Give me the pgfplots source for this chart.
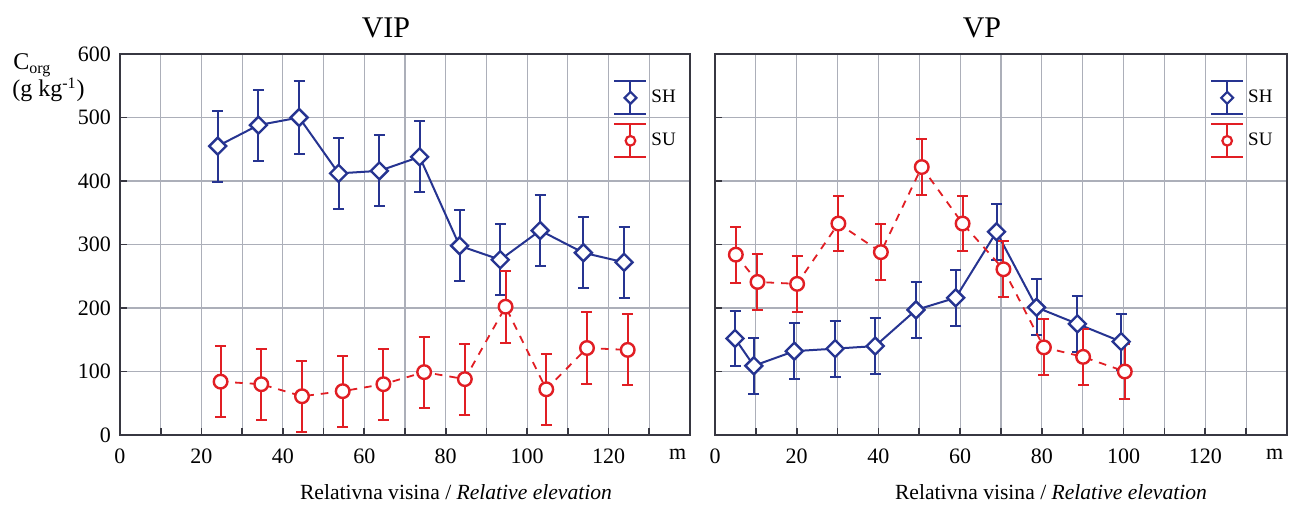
\documentclass[border=0pt]{standalone}
\usepackage{fontspec}
\setmainfont{Liberation Serif}
\usepackage{pgfplots}
\pgfplotsset{compat=1.18}
\definecolor{blueL}{RGB}{38,52,145}
\definecolor{redL}{RGB}{225,30,36}
\definecolor{gridc}{RGB}{172,175,185}
\definecolor{axc}{RGB}{55,55,65}

\pgfplotsset{
  panel/.style={
    scale only axis, width=285pt, height=190.5pt,
    xmin=0, xmax=140, ymin=0, ymax=600,
    xtick={0,20,...,120}, minor xtick={10,30,...,130},
    ytick={0,100,...,600},
    xmajorgrids, xminorgrids, ymajorgrids,
    grid style={gridc, line width=0.6pt},
    minor grid style={gridc, line width=0.6pt},
    axis line style={axc, line width=1pt},
    tick style={axc, line width=0.9pt},
    tick align=inside, major tick length=3.5pt, minor tick length=3.5pt,
    xtick pos=bottom, ytick pos=left,
    /pgf/number format/assume math mode=true,
    ticklabel style={font=\fontsize{11}{13}\selectfont},
    xticklabel style={yshift=-3.5pt},
    yticklabel style={xshift=-1pt},
    extra x ticks={137}, extra x tick labels={m},
    extra x tick style={major tick length=0pt, grid=none},
    legend cell align=left,
    legend style={at={(0.865,0.932)}, anchor=north west, draw=none, fill=none,
      inner sep=0pt, row sep=4pt, font=\fontsize{9.5}{11}\selectfont,
      /tikz/every even column/.append style={column sep=2pt}},
  },
  SH/.style={blueL, line width=1pt, mark=square*, mark size=3pt,
    mark options={rotate=45, fill=white, line width=1.2pt, solid},
    error bars/y dir=both, error bars/y explicit,
    error bars/error bar style={line width=1pt, solid, blueL},
    error bars/error mark options={rotate=90, mark size=2.75pt, line width=1pt, blueL, solid},
  },
  SU/.style={redL, line width=0.9pt, dash pattern=on 3.8pt off 3.5pt, mark=*, mark size=3.4pt,
    mark options={fill=white, line width=1.2pt, solid},
    error bars/y dir=both, error bars/y explicit,
    error bars/error bar style={line width=1pt, solid, redL},
    error bars/error mark options={rotate=90, mark size=2.75pt, line width=1pt, redL, solid},
  },
  SHleg/.style={legend image code/.code={
    \draw[blueL, line width=1pt, solid] (8pt,-8.25pt) -- (8pt,8.25pt)
      (0pt,8.25pt) -- (16pt,8.25pt) (0pt,-8.25pt) -- (16pt,-8.25pt);
    \draw[blueL, line width=1.1pt, fill=white, mark=square*, mark size=2.1pt,
      mark options={rotate=45, fill=white, solid}] plot coordinates {(8pt,0pt)};
  }},
  SUleg/.style={legend image code/.code={
    \draw[redL, line width=1pt, solid] (8pt,-8.25pt) -- (8pt,8.25pt)
      (0pt,8.25pt) -- (16pt,8.25pt) (0pt,-8.25pt) -- (16pt,-8.25pt);
    \draw[redL, line width=1.1pt, fill=white, mark=*, mark size=2.4pt,
      mark options={fill=white, solid}] plot coordinates {(8pt,0pt)};
  }},
}

\begin{document}
\begin{tikzpicture}
\path[use as bounding box] (0,0) rectangle (648.5pt,253.5pt);

% ---------------- VIP ----------------
\begin{axis}[panel, at={(60pt,36pt)}, anchor=south west]
\addplot+[SH, SHleg] coordinates {
  (24,455) +- (0,56)
  (34,488) +- (0,56)
  (44,500) +- (0,57)
  (53.7,412) +- (0,56)
  (63.7,416) +- (0,56)
  (73.6,438) +- (0,56)
  (83.4,298) +- (0,56)
  (93.4,276) +- (0,56)
  (103.2,322) +- (0,56)
  (113.8,287) +- (0,56)
  (123.8,272) +- (0,56)
};
\addlegendentry{SH}
\addplot+[SU, SUleg] coordinates {
  (24.7,84) +- (0,56)
  (34.7,80) +- (0,56)
  (44.7,61) +- (0,56)
  (54.7,69) +- (0,56)
  (64.7,80) +- (0,56)
  (74.7,99) +- (0,56)
  (84.7,88) +- (0,56)
  (94.7,202) +- (0,57)
  (104.7,72) +- (0,56)
  (114.7,137) +- (0,56)
  (124.7,134) +- (0,56)
};
\addlegendentry{SU}
\end{axis}

% ---------------- VP ----------------
\begin{axis}[panel, at={(357.5pt,36pt)}, anchor=south west, width=286pt, yticklabels={}]
\addplot+[SH, SHleg] coordinates {
  (4.9,152) +- (0,44)
  (9.5,109) +- (0,44)
  (19.4,132) +- (0,44)
  (29.4,136) +- (0,44)
  (39.2,140) +- (0,44)
  (49.2,197) +- (0,44)
  (58.9,216) +- (0,44)
  (68.9,320) +- (0,44)
  (78.7,201) +- (0,44)
  (88.7,175) +- (0,44)
  (99.4,147) +- (0,44)
};
\addlegendentry{SH}
\addplot+[SU, SUleg] coordinates {
  (5.1,284) +- (0,44)
  (10.4,241) +- (0,44)
  (20.1,238) +- (0,44)
  (30.2,333) +- (0,44)
  (40.6,288) +- (0,44)
  (50.6,422) +- (0,44)
  (60.6,333) +- (0,44)
  (70.6,261) +- (0,44)
  (80.5,138) +- (0,44)
  (90.1,123) +- (0,44)
  (100.3,100) +- (0,44)
};
\addlegendentry{SU}
\end{axis}

% titles and labels
\node[font=\fontsize{15}{18}\selectfont] at (193pt,239.5pt) {VIP};
\node[font=\fontsize{15}{18}\selectfont] at (491pt,239.5pt) {VP};
\node[anchor=base, font=\fontsize{10.8}{12}\selectfont] at (228pt,3.5pt) {Relativna visina / \textit{Relative elevation}};
\node[anchor=base, font=\fontsize{10.8}{12}\selectfont] at (525.5pt,3.5pt) {Relativna visina / \textit{Relative elevation}};
\node[anchor=base west, inner sep=0pt, font=\fontsize{12}{14}\selectfont] at (6.5pt,218.5pt) {C\textsubscript{org}};
\node[anchor=base west, inner sep=0pt, font=\fontsize{12}{14}\selectfont] at (6pt,205pt) {(g kg\textsuperscript{-1})};
\end{tikzpicture}
\end{document}
